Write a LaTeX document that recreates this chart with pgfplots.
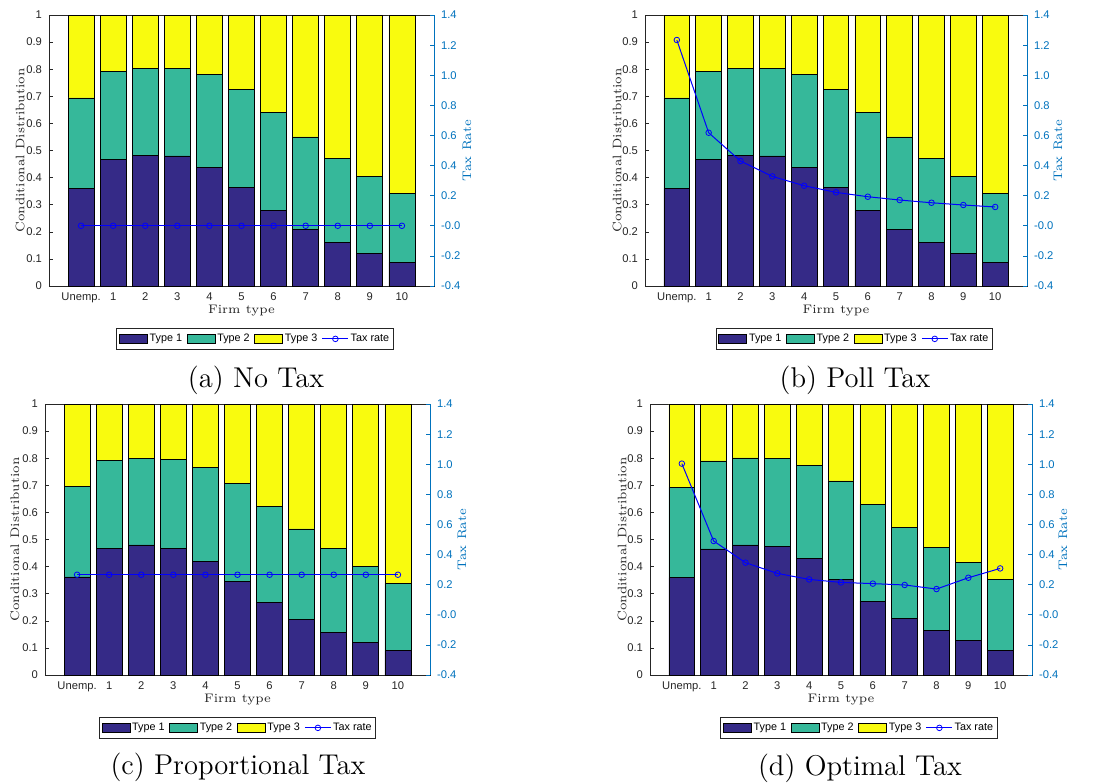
\documentclass[border=0pt]{standalone}
\usepackage{fontspec}
\newfontfamily\lsans{Liberation Sans}
\usepackage{pgfplots}
\usepackage{pgfplotstable}
\pgfplotsset{compat=1.18}
\definecolor{cA}{RGB}{53,42,135}
\definecolor{cB}{RGB}{54,184,154}
\definecolor{cC}{RGB}{249,251,14}
\definecolor{mblue}{RGB}{0,114,189}
\definecolor{axgray}{RGB}{38,38,38}

\pgfplotstableread{
x t1 t2 t3 tax
0 0.360 0.334 0.306 0.0
1 0.467 0.324 0.209 0.0
2 0.483 0.320 0.197 0.0
3 0.480 0.323 0.197 0.0
4 0.439 0.342 0.219 0.0
5 0.364 0.362 0.274 0.0
6 0.279 0.362 0.359 0.0
7 0.209 0.341 0.450 0.0
8 0.160 0.310 0.530 0.0
9 0.121 0.284 0.595 0.0
10 0.087 0.255 0.658 0.0
}\dataA
\pgfplotstableread{
x t1 t2 t3 tax
0 0.360 0.334 0.306 1.234
1 0.467 0.324 0.209 0.618
2 0.483 0.320 0.197 0.430
3 0.480 0.323 0.197 0.328
4 0.439 0.342 0.219 0.266
5 0.364 0.362 0.274 0.222
6 0.279 0.362 0.359 0.193
7 0.209 0.341 0.450 0.171
8 0.160 0.310 0.530 0.153
9 0.121 0.284 0.595 0.138
10 0.087 0.255 0.658 0.125
}\dataB
\pgfplotstableread{
x t1 t2 t3 tax
0 0.362 0.333 0.305 0.266
1 0.467 0.324 0.209 0.266
2 0.480 0.320 0.200 0.266
3 0.467 0.329 0.204 0.266
4 0.419 0.347 0.234 0.266
5 0.346 0.360 0.294 0.266
6 0.268 0.354 0.378 0.266
7 0.205 0.334 0.461 0.266
8 0.157 0.309 0.534 0.266
9 0.121 0.281 0.598 0.266
10 0.089 0.249 0.662 0.266
}\dataC
\pgfplotstableread{
x t1 t2 t3 tax
0 0.359 0.333 0.308 1.004
1 0.465 0.325 0.210 0.490
2 0.480 0.321 0.199 0.346
3 0.475 0.325 0.200 0.275
4 0.430 0.344 0.226 0.235
5 0.353 0.363 0.284 0.215
6 0.273 0.357 0.370 0.207
7 0.209 0.336 0.455 0.198
8 0.164 0.308 0.528 0.171
9 0.127 0.288 0.585 0.246
10 0.092 0.259 0.649 0.308
}\dataD

\pgfplotsset{
  ticksans/.style={font=\lsans\fontsize{5.6}{6.5}\selectfont},
  barax/.style={
    scale only axis, anchor=north west, height=135.5pt,
    ybar stacked, bar width=0.81,
    xmin=-1, xmax=11, ymin=0, ymax=1,
    xtick={0,1,2,3,4,5,6,7,8,9,10},
    xticklabels={Unemp.,1,2,3,4,5,6,7,8,9,10},
    ytick={0,0.1,0.2,0.3,0.4,0.5,0.6,0.7,0.8,0.9,1},
    yticklabels={0,0.1,0.2,0.3,0.4,0.5,0.6,0.7,0.8,0.9,1},
    tick label style={ticksans, text=axgray},
    axis line style={axgray, line width=0.4pt},
    tick style={axgray, line width=0.3pt},
    tick align=inside, major tick length=2pt,
    ytick pos=left, xtick pos=bottom,
    xlabel={Firm type}, ylabel={Conditional Distribution},
    label style={font=\fontsize{6.2}{7}\selectfont, text=axgray},
    xlabel style={at={(axis description cs:0.5,-0.092)}, anchor=center},
    legend columns=4,
    legend cell align=left,
    legend style={anchor=north, font=\lsans\fontsize{5.4}{6.2}\selectfont,
      draw=axgray, line width=0.4pt, inner xsep=1.2pt, inner ysep=0.6pt,
      nodes={inner xsep=0.9pt},
      /tikz/every even column/.append style={column sep=1.4pt}},
    legend image code/.code={\draw[#1, line width=0.4pt] (0pt,-2.3pt) rectangle (14pt,2.3pt);},
  },
  taxax/.style={
    scale only axis, anchor=north west, height=135.5pt,
    xmin=-1, xmax=11, ymin=-0.4, ymax=1.4,
    axis x line=none, axis y line*=right,
    ytick={-0.4,-0.2,0,0.2,0.4,0.6,0.8,1.0,1.2,1.4},
    yticklabels={-0.4,-0.2,-0.0,0.2,0.4,0.6,0.8,1.0,1.2,1.4},
    yticklabel style={ticksans, text=mblue},
    y axis line style={mblue, line width=0.4pt},
    ytick style={mblue, line width=0.3pt},
    tick align=inside, major tick length=2pt,
    ylabel={Tax Rate},
    ylabel style={font=\fontsize{6.2}{7}\selectfont, text=mblue, anchor=center},
  },
}

\newcommand{\panel}[8]{%
\begin{axis}[barax, at={(#1,#2)}, width=#3,
  legend style={at={(axis description cs:#5,-0.155)}},
  ylabel style={at={(axis description cs:#6,0.5)}, anchor=center}]
\addplot[fill=cA, draw=black, line width=0.4pt] table[x=x,y=t1]{#4};
\addplot[fill=cB, draw=black, line width=0.4pt] table[x=x,y=t2]{#4};
\addplot[fill=cC, draw=black, line width=0.4pt] table[x=x,y=t3]{#4};
\addlegendimage{legend image code/.code={\draw[blue, line width=0.5pt] (0pt,0pt) -- (13pt,0pt); \draw[blue, line width=0.4pt] (6.5pt,0pt) circle (1.4pt);}}
\legend{Type 1,Type 2,Type 3,Tax rate}
\end{axis}
\begin{axis}[taxax, at={(#1,#2)}, width=#3,
  ylabel style={at={(axis description cs:#7,0.5)}}]
\addplot[blue, line width=0.5pt, mark=o, mark size=1.4pt, mark options={line width=0.4pt}] table[x=x,y=tax]{#4};
\end{axis}
\node[font=\fontsize{14.3}{17}\selectfont] at #8;
}

\begin{document}
\begin{tikzpicture}
\useasboundingbox (0pt,0pt) rectangle (552.5pt,-391.5pt);
\panel{24.5pt}{-7.5pt}{192.5pt}{\dataA}{0.535}{-0.075}{1.086}{(128pt,-190pt) {(a) No Tax}}
\panel{322.5pt}{-7.5pt}{191pt}{\dataB}{0.548}{-0.073}{1.081}{(427.5pt,-190pt) {(b) Poll Tax}}
\panel{22.5pt}{-202pt}{192.5pt}{\dataC}{0.5}{-0.078}{1.083}{(119pt,-383.5pt) {(c) Proportional Tax}}
\panel{325pt}{-202pt}{191pt}{\dataD}{0.547}{-0.073}{1.081}{(430pt,-384pt) {(d) Optimal Tax}}
\end{tikzpicture}
\end{document}
